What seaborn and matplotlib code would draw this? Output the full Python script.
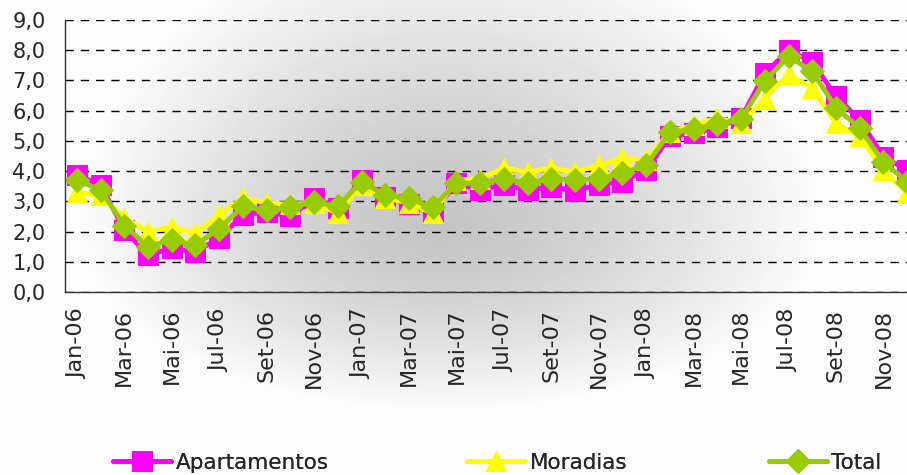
import numpy as np
import pandas as pd
import matplotlib
matplotlib.use("Agg")
import matplotlib.pyplot as plt
import seaborn as sns

sns.set_style("white")
plt.rcParams["font.family"] = ["DejaVu Sans"]

# =========================
# DATA
# =========================
months = ["Jan-06", "Fev-06", "Mar-06", "Abr-06", "Mai-06", "Jun-06",
          "Jul-06", "Ago-06", "Set-06", "Out-06", "Nov-06", "Dez-06",
          "Jan-07", "Fev-07", "Mar-07", "Abr-07", "Mai-07", "Jun-07",
          "Jul-07", "Ago-07", "Set-07", "Out-07", "Nov-07", "Dez-07",
          "Jan-08", "Fev-08", "Mar-08", "Abr-08", "Mai-08", "Jun-08",
          "Jul-08", "Ago-08", "Set-08", "Out-08", "Nov-08", "Dez-08"]

apartamentos = [3.87, 3.55, 2.05, 1.22, 1.45, 1.33, 1.78, 2.55, 2.65, 2.5, 3.1, 2.77,
                3.7, 3.15, 2.9, 2.65, 3.6, 3.38, 3.55, 3.38, 3.48, 3.35, 3.55, 3.65,
                4.04, 5.15, 5.25, 5.45, 5.75, 7.23, 8.0, 7.62, 6.47, 5.7, 4.47, 4.04]

moradias = [3.3, 3.2, 2.45, 2.0, 2.15, 1.95, 2.55, 3.1, 2.95, 2.9, 2.95, 2.6,
            3.55, 3.1, 2.95, 2.6, 3.7, 3.75, 4.1, 3.97, 4.1, 3.97, 4.2, 4.42,
            4.37, 5.3, 5.53, 5.75, 5.58, 6.4, 7.2, 6.75, 5.58, 5.15, 4.04, 3.27]

total = [3.7, 3.38, 2.2, 1.5, 1.72, 1.55, 2.1, 2.83, 2.7, 2.8, 2.98, 2.83,
         3.65, 3.2, 3.1, 2.8, 3.6, 3.6, 3.75, 3.6, 3.75, 3.7, 3.75, 3.93,
         4.2, 5.28, 5.38, 5.56, 5.72, 6.98, 7.8, 7.3, 6.1, 5.42, 4.3, 3.65]

series = [
    ("Apartamentos", apartamentos, "#FF00FF", "s", 15),
    ("Moradias", moradias, "#FFFF00", "^", 15),
    ("Total", total, "#99CC00", "D", 12),
]

# =========================
# FIGURE + BACKGROUND GRADIENT
# =========================
W, H = 907, 475
fig = plt.figure(figsize=(W / 100, H / 100), dpi=100)

bg = fig.add_axes([0, 0, 1, 1], zorder=0)
yy, xx = np.mgrid[0:H, 0:W]
cx, cy = 440, 230
ry = np.where(yy < cy, 300.0, 180.0)
rx = np.where(xx < cx, 360.0, 380.0)
r = np.sqrt(((xx - cx) / rx) ** 2 + ((yy - cy) / ry) ** 2)
r = np.clip(r, 0, 1)
shade = 0.77 + (0.99 - 0.77) * r ** 1.4
bg.imshow(shade, cmap="gray", vmin=0, vmax=1, aspect="auto",
          extent=[0, 1, 0, 1], origin="upper")
bg.axis("off")

ax = fig.add_axes([65 / W, 1 - 292 / H, 854 / W, 272 / H], zorder=1)
ax.set_facecolor("none")

x = np.arange(len(months))
for name, vals, color, marker, ms in series:
    df = pd.DataFrame({"x": x, "y": vals})
    sns.lineplot(data=df, x="x", y="y", ax=ax, color=color, lw=3.5,
                 marker=marker, markersize=ms, markeredgecolor=color,
                 label=name, legend=False, clip_on=False)

# =========================
# AXES STYLE
# =========================
ax.set_xlim(-0.5, len(months) - 0.5)
ax.set_ylim(0, 9)
ax.set_yticks(np.arange(0, 10, 1))
ax.set_yticklabels([f"{v:.1f}".replace(".", ",") for v in range(10)], fontsize=15)
ax.yaxis.grid(True, color="black", linestyle=(0, (6, 5)), lw=1)
ax.set_axisbelow(True)

ax.set_xticks(x[::2])
ax.set_xticklabels(months[::2], rotation=90, fontsize=16)
ax.set_xticks(np.arange(-0.5, len(months), 2), minor=True)
ax.tick_params(axis="x", which="major", length=0, pad=12)
ax.tick_params(axis="x", which="minor", length=6, color="#333333")
ax.tick_params(axis="y", length=6, color="#333333", pad=8)
ax.set_xlabel("")
ax.set_ylabel("")

for side in ["top", "right"]:
    ax.spines[side].set_visible(False)
for side in ["left", "bottom"]:
    ax.spines[side].set_color("#333333")
    ax.spines[side].set_linewidth(1)

# one legend entry per slot, spread along the bottom like the original
handles, labels = ax.get_legend_handles_labels()
legend_x = [113, 467, 769]
for h, lab, lx in zip(handles, labels, legend_x):
    leg = fig.legend([h], [lab], loc="center left",
                     bbox_to_anchor=(lx / W, 1 - 463 / H),
                     frameon=False, fontsize=15.5, handlelength=2.7,
                     handletextpad=0.2, borderpad=0, borderaxespad=0)
    fig.add_artist(leg)

fig.savefig("out.png", dpi=100)
